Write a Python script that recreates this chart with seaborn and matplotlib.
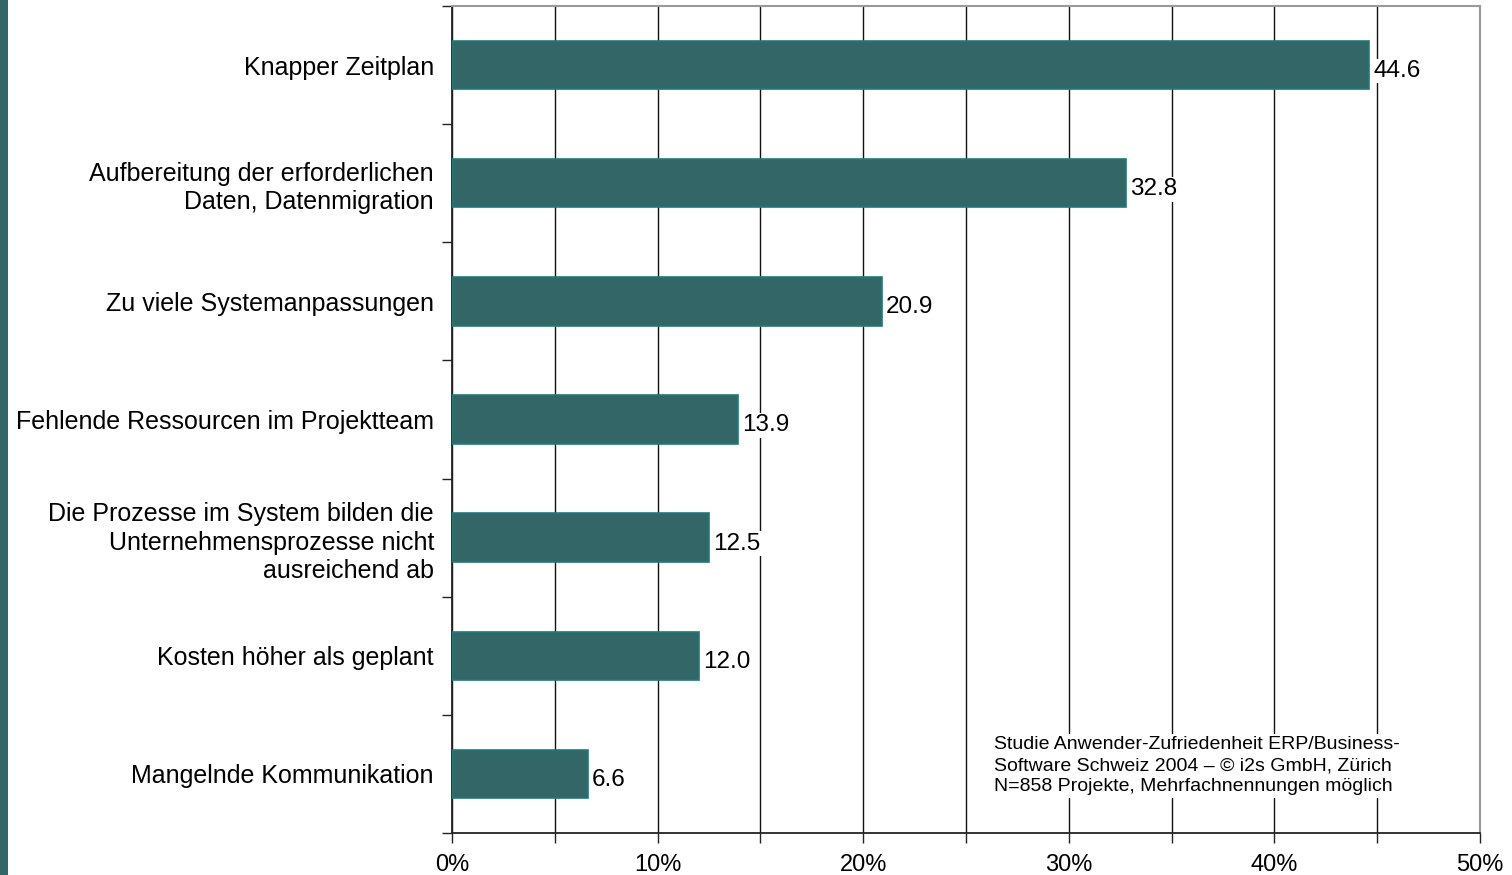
import matplotlib
matplotlib.use("Agg")
import matplotlib.pyplot as plt
import seaborn as sns
import pandas as pd
from matplotlib.ticker import MultipleLocator, FuncFormatter

# chart data
categories = [
    "Knapper Zeitplan",
    "Aufbereitung der erforderlichen\nDaten, Datenmigration",
    "Zu viele Systemanpassungen",
    "Fehlende Ressourcen im Projektteam",
    "Die Prozesse im System bilden die\nUnternehmensprozesse nicht\nausreichend ab",
    "Kosten höher als geplant",
    "Mangelnde Kommunikation",
]
values = [44.6, 32.8, 20.9, 13.9, 12.5, 12.0, 6.6]
source_note = ("Studie Anwender-Zufriedenheit ERP/Business-\n"
               "Software Schweiz 2004 – © i2s GmbH, Zürich\n"
               "N=858 Projekte, Mehrfachnennungen möglich")

df = pd.DataFrame({"problem": categories, "share": values})

sns.set_style("white")
plt.rcParams['font.family'] = ['Liberation Sans', 'DejaVu Sans']
plt.rcParams['text.color'] = 'black'
plt.rcParams['xtick.color'] = 'black'
plt.rcParams['ytick.color'] = 'black'

fig = plt.figure(figsize=(15.12, 8.75), dpi=100)
ax = fig.add_axes([452 / 1512, 42 / 875, 1028 / 1512, 827 / 875])

sns.barplot(data=df, x="share", y="problem", orient="h", color="#336666",
            width=0.41, edgecolor="#1f7a7a", linewidth=1.2, saturation=1,
            ax=ax, zorder=3)

ax.set_xlim(0, 50)
ax.set_ylim(6.5, -0.5)
ax.xaxis.set_major_locator(MultipleLocator(5))
ax.xaxis.set_major_formatter(FuncFormatter(lambda v, p: f"{v:.0f}%" if round(v) % 10 == 0 else ""))
ax.grid(axis="x", color="#111111", linewidth=1, zorder=0)
ax.set_axisbelow(True)

# ticks between categories on y
ax.set_yticks([i for i in range(len(categories))])
ax.set_yticklabels(categories, fontsize=18, linespacing=1.25)
ax.yaxis.set_minor_locator(MultipleLocator(1, offset=0.5))
ax.tick_params(axis="y", which="major", length=0, pad=13)
ax.tick_params(axis="y", which="minor", length=7, width=1, color="#222222", left=True)
ax.tick_params(axis="x", which="major", length=7, width=1, color="#222222",
               bottom=True, labelsize=17, pad=8)

ax.set_xlabel("")
ax.set_ylabel("")

for side in ["left", "bottom"]:
    ax.spines[side].set_color("#222222")
    ax.spines[side].set_linewidth(1.3)
for side in ["top", "right"]:
    ax.spines[side].set_color("#999999")
    ax.spines[side].set_linewidth(1.5)

# value labels
for i, v in enumerate(values):
    ax.text(v + 0.2, i + 0.05, f"{v:.1f}", va="center", ha="left", fontsize=17.5,
            zorder=4, bbox=dict(facecolor="white", edgecolor="none", pad=1))

ax.text(26.36, 5.93, source_note, ha="left", va="center", fontsize=14,
        linespacing=1.3, zorder=4,
        bbox=dict(facecolor="white", edgecolor="none", pad=2))

# teal strip at left edge
fig.patches.append(plt.Rectangle((0, 0), 8 / 1512, 1, transform=fig.transFigure,
                                 facecolor="#336666", edgecolor="none"))

fig.savefig("out.png", dpi=100)
